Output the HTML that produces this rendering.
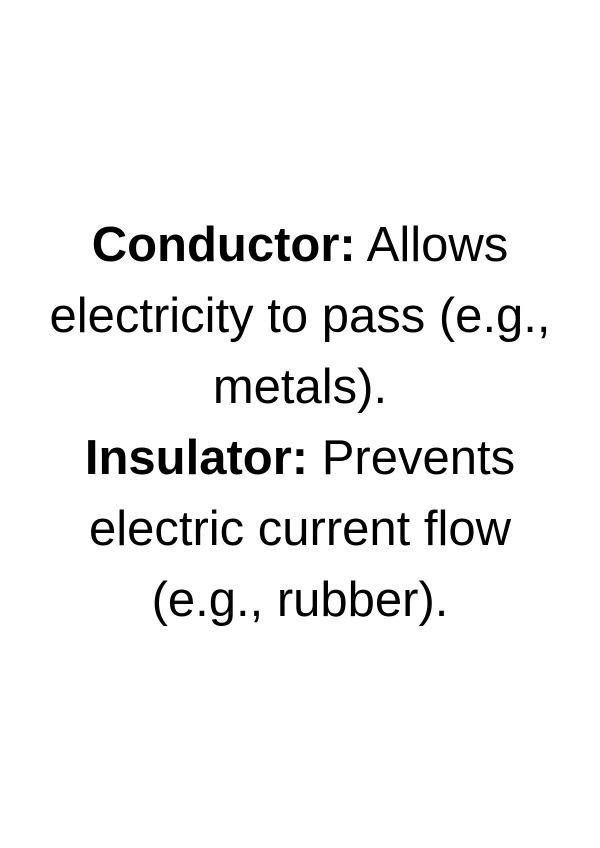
<!DOCTYPE html>
<html>
<head>
<meta charset="utf-8">
<style>
  html, body { margin:0; padding:0; background:#fff; }
  body { width:600px; height:848px; position:relative; overflow:hidden; }
  .t {
    position:absolute; left:0; width:600px; top:210px;
    text-align:center;
    font-family:"Liberation Sans", sans-serif;
    font-size:49px; line-height:71px; color:#000;
  }
  b { font-weight:bold; }
</style>
</head>
<body>
<div class="t">
  <b>Conductor:</b> Allows<br>
  electricity to pass (e.g.,<br>
  metals).<br>
  <b>Insulator:</b> Prevents<br>
  electric current flow<br>
  (e.g., rubber).
</div>
</body>
</html>
